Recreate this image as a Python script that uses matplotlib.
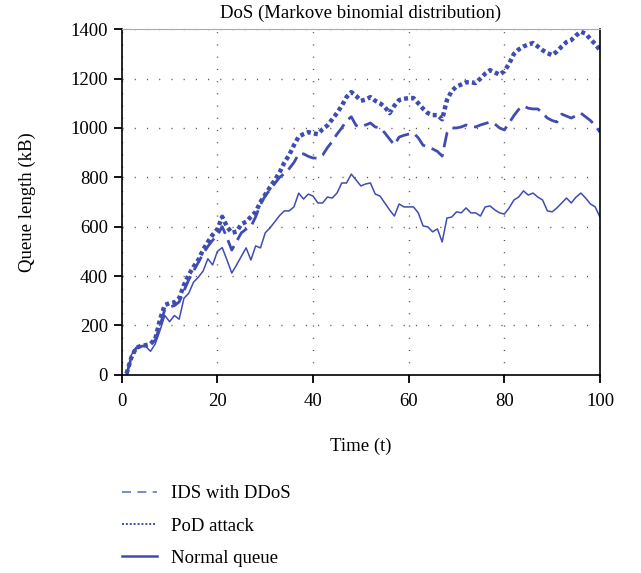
import numpy as np
import matplotlib.pyplot as plt

plt.rcParams['font.family'] = ['Liberation Serif', 'DejaVu Serif']

# time steps
t = np.arange(1, 101)

# IDS with DDoS (dashed)
ids_ddos = [0, 70, 108, 115, 118, 125, 140, 200, 265, 275,
            280, 295, 340, 385, 420, 455, 490, 520, 545, 565,
            600, 555, 505, 540, 575, 590, 600, 640, 690, 725,
            750, 775, 800, 815, 835, 860, 895, 895, 885, 878,
            878, 890, 920, 945, 975, 1000, 1030, 1045, 1010, 1004,
            1012, 1020, 1004, 1000, 980, 955, 931, 963, 970, 975,
            979, 960, 930, 923, 915, 905, 886, 979, 1000, 1000,
            1004, 1012, 1006, 1004, 1012, 1018, 1024, 1016, 1000, 992,
            1020, 1050, 1075, 1089, 1080, 1077, 1077, 1060, 1040, 1030,
            1024, 1056, 1048, 1040, 1050, 1060, 1045, 1030, 1010, 983]

# PoD attack (dotted)
pod_attack = [5, 70, 109, 117, 120, 125, 145, 225, 283, 290,
              293, 310, 364, 405, 437, 465, 506, 538, 567, 590,
              640, 600, 575, 580, 610, 620, 640, 660, 700, 730,
              760, 789, 820, 860, 890, 930, 965, 975, 983, 978,
              975, 995, 1010, 1035, 1060, 1090, 1125, 1145, 1130, 1110,
              1115, 1125, 1110, 1100, 1085, 1060, 1090, 1113, 1118, 1121,
              1121, 1100, 1078, 1060, 1052, 1052, 1035, 1113, 1150, 1168,
              1176, 1185, 1185, 1182, 1200, 1220, 1234, 1225, 1216, 1230,
              1260, 1300, 1318, 1330, 1338, 1344, 1330, 1315, 1303, 1295,
              1310, 1330, 1348, 1356, 1375, 1390, 1382, 1360, 1340, 1315]

# Normal queue (solid)
normal_queue = [0, 80, 110, 115, 115, 95, 125, 180, 240, 215,
                240, 225, 310, 330, 375, 395, 420, 470, 445, 500,
                515, 465, 412, 445, 480, 514, 465, 522, 514, 575,
                595, 620, 645, 664, 664, 680, 736, 712, 732, 724,
                696, 696, 720, 716, 736, 777, 777, 813, 789, 765,
                773, 777, 732, 724, 696, 668, 643, 692, 680, 680,
                680, 656, 603, 599, 579, 591, 538, 635, 639, 660,
                656, 676, 656, 656, 643, 680, 684, 668, 656, 651,
                676, 708, 720, 745, 728, 736, 720, 708, 664, 660,
                676, 696, 716, 696, 720, 736, 716, 692, 680, 639]

color = '#3f4cb0'
fs = 13.5

fig = plt.figure(figsize=(6.41, 5.73), dpi=100)
ax = fig.add_axes([0.190, 0.346, 0.746, 0.603])

ax.plot(t, ids_ddos, color=color, lw=2.0, linestyle=(0, (5.5, 2.5)), label='IDS with DDoS')
ax.plot(t, pod_attack, color=color, lw=3.2, linestyle=(0, (0.9, 0.7)), label='PoD attack')
ax.plot(t, normal_queue, color=color, lw=1.1, label='Normal queue')

ax.set_xlim(0, 100)
ax.set_ylim(0, 1400)
ax.set_xticks(np.arange(0, 101, 20))
ax.set_yticks(np.arange(0, 1401, 200))
ax.tick_params(direction='out', length=6, width=1.3, labelsize=fs, pad=4,
               top=False, right=False)
ax.tick_params(axis='x', pad=7)
ax.grid(True, color='#555555', linestyle=(0, (0.8, 8)), lw=1)

for side in ['left', 'bottom', 'right']:
    ax.spines[side].set_linewidth(1.2)
    ax.spines[side].set_color('black')
ax.spines['top'].set_color('#aaaaaa')

ax.set_title('DoS (Markove binomial distribution)', fontsize=fs, pad=8)
ax.set_xlabel('Time (t)', fontsize=fs, va='center')
ax.set_ylabel('Queue length (kB)', fontsize=fs, va='center')
ax.xaxis.set_label_coords(0.5, -0.208)
ax.yaxis.set_label_coords(-0.197, 0.5)

leg = fig.legend(loc='upper left', bbox_to_anchor=(0.190, 0.153), frameon=False,
                 fontsize=fs, handlelength=1.9, handletextpad=0.7,
                 labelspacing=0.8, borderpad=0, borderaxespad=0)
h_dash, h_dot, h_solid = leg.get_lines()
h_dash.set_linewidth(1.3)
h_dash.set_linestyle((0, (5, 3.5)))
h_dash.set_color('#7480c8')
h_dot.set_linewidth(1.4)
h_dot.set_linestyle((0, (1, 1)))
h_solid.set_linewidth(1.8)

fig.savefig('out.png', dpi=100)
